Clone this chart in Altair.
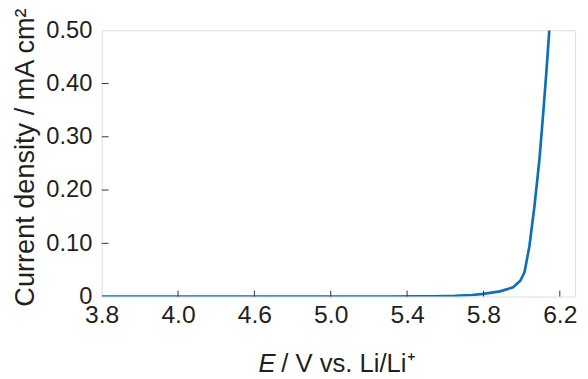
import altair as alt
import pandas as pd

# Curve data (E vs Li/Li+, current density mA cm^-2)
E_vals = [3.8, 4.2, 4.6, 5.0, 5.3, 5.45, 5.54, 5.65, 5.74, 5.8, 5.886, 5.955, 5.993,
          6.015, 6.041, 6.067, 6.093, 6.114, 6.131, 6.145]
J_vals = [0.0, 0.0, 0.0, 0.0, 0.0, 0.0003, 0.0006, 0.0015, 0.003, 0.005, 0.0098, 0.0172, 0.0296,
          0.0457, 0.095, 0.169, 0.256, 0.348, 0.428, 0.50]

x_tick_values = [3.8, 4.2, 4.6, 5.0, 5.4, 5.8, 6.2]
x_tick_labels = ["3.8", "4.0", "4.6", "5.0", "5.4", "5.8", "6.2"]
y_tick_values = [0.0, 0.1, 0.2, 0.3, 0.4, 0.5]
y_tick_labels = ["0", "0.10", "0.20", "0.30", "0.40", "0.50"]

y_title = "Current density / mA cm²"
x_title_italic = "E"
x_title_rest = "/ V vs. Li/Li⁺"

W, H = 480, 270
FONT = "Liberation Sans"
COLOR_LINE = "#0b6fba"
TEXT = "#231f20"

curve = pd.DataFrame({"E": E_vals, "J": J_vals})

def label_expr(values, labels):
    parts = []
    for v, l in zip(values, labels):
        parts.append(f"abs(datum.value - {v}) < 1e-6 ? '{l}' : ")
    return "".join(parts) + "''"

x_scale = alt.Scale(domain=[3.8, 6.28], nice=False, zero=False)
y_scale = alt.Scale(domain=[0, 0.5], nice=False)

line = alt.Chart(curve).mark_line(color=COLOR_LINE, strokeWidth=2.7, clip=True).encode(
    x=alt.X("E:Q", scale=x_scale,
            axis=alt.Axis(values=x_tick_values, labelExpr=label_expr(x_tick_values, x_tick_labels),
                          ticks=False, domain=False, grid=False, title=None,
                          labelFontSize=25, labelFont=FONT, labelColor=TEXT, labelPadding=6,
                          labelFlush=False)),
    y=alt.Y("J:Q", scale=y_scale,
            axis=alt.Axis(values=y_tick_values, labelExpr=label_expr(y_tick_values, y_tick_labels),
                          ticks=False, domain=False, grid=False, title=None,
                          labelFontSize=24, labelFont=FONT, labelColor=TEXT, labelPadding=10,
                          labelFlush=False)),
)

xt = pd.DataFrame({"E": [v for v in x_tick_values if v > 3.8]})
x_ticks = alt.Chart(xt).mark_rule(color="#333333", strokeWidth=1).encode(
    x=alt.X("E:Q", scale=x_scale), y=alt.value(H), y2=alt.value(H - 6))

yt = pd.DataFrame({"J": [v for v in y_tick_values if 0 < v < 0.5]})
y_ticks = alt.Chart(yt).mark_rule(color="#333333", strokeWidth=1).encode(
    y=alt.Y("J:Q", scale=y_scale), x=alt.value(0), x2=alt.value(7))

title_y = alt.Chart(pd.DataFrame({"t": [y_title]})).mark_text(
    font=FONT, fontSize=27.5, color=TEXT, align="center", baseline="alphabetic", angle=270
).encode(text="t:N", x=alt.value(-69), y=alt.value(129))

title_E = alt.Chart(pd.DataFrame({"t": [x_title_italic]})).mark_text(
    font=FONT, fontSize=26, fontStyle="italic", color=TEXT, align="left", baseline="alphabetic"
).encode(text="t:N", x=alt.value(159), y=alt.value(H + 76))

title_rest = alt.Chart(pd.DataFrame({"t": [x_title_rest]})).mark_text(
    font=FONT, fontSize=26, color=TEXT, align="left", baseline="alphabetic"
).encode(text="t:N", x=alt.value(182), y=alt.value(H + 76))

chart = alt.layer(line, x_ticks, y_ticks, title_y, title_E, title_rest).properties(
    width=W, height=H,
    autosize=alt.AutoSizeParams(type="none"),
    padding={"left": 95, "top": 20, "right": 5, "bottom": 81}
).configure_view(stroke="#333333", strokeWidth=1.2).configure(background="white")

chart.save("out.html", embed_options={"renderer": "svg", "actions": False})
